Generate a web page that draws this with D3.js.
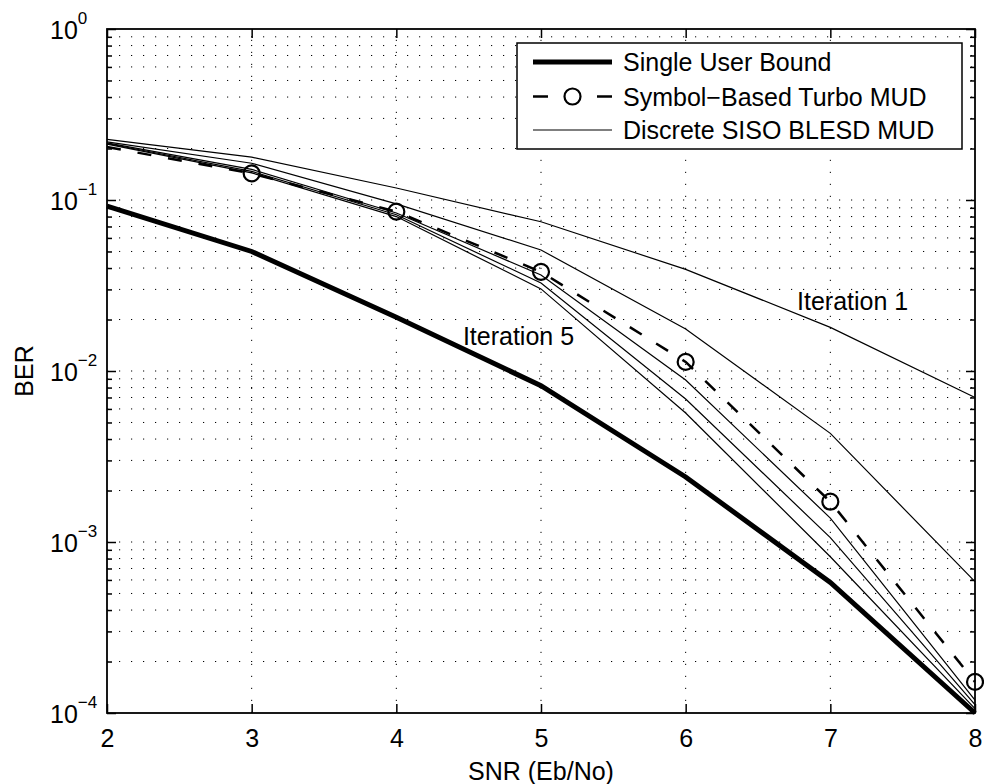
<!DOCTYPE html>
<html>
<head>
<meta charset="utf-8">
<script src="https://cdn.jsdelivr.net/npm/d3@7"></script>
<style>
  body { margin: 0; background: #fff; }
  text { font-family: "Liberation Sans", Arial, Helvetica, sans-serif; fill: #000; }
</style>
</head>
<body>
<svg id="chart"></svg>
<script>
// SNR points (Eb/No)
const snr = [2, 3, 4, 5, 6, 7, 8];

// BER curves
const singleUserBound = [0.092, 0.05, 0.0206, 0.0082, 0.0024, 0.00058, 0.0001];
const turboMud = [0.204, 0.143, 0.0855, 0.038, 0.0113, 0.00172, 0.000152];
const turboMarkerSnr = [3, 4, 5, 6, 7, 8];

// discrete SISO BLESD MUD, iterations 1..5
const blesdIter1 = [0.226, 0.178, 0.1175, 0.0746, 0.0393, 0.018, 0.007];
const blesdIter2 = [0.219, 0.164, 0.095, 0.051, 0.0176, 0.00432, 0.000586];
const blesdIter3 = [0.216, 0.151, 0.084, 0.0364, 0.00886, 0.00138, 0.000119];
const blesdIter4 = [0.214, 0.147, 0.082, 0.0327, 0.00686, 0.00106, 0.000112];
const blesdIter5 = [0.212, 0.144, 0.08, 0.0302, 0.00568, 0.00082, 0.000106];

const xTicks = [2, 3, 4, 5, 6, 7, 8];
const yTicks = [1e-4, 1e-3, 1e-2, 1e-1, 1];
const yExponents = ["\u22124", "\u22123", "\u22122", "\u22121", "0"];
const legendLabels = ["Single User Bound", "Symbol\u2212Based Turbo MUD", "Discrete SISO BLESD MUD"];

// minor log ticks 2..9 for each decade
const yMinor = [];
yTicks.slice(0, -1).forEach((d) => {
  for (let k = 2; k <= 9; k++) yMinor.push(d * k);
});

const width = 984;
const height = 784;
const margin = { top: 29, right: 9, bottom: 71, left: 107 };
const fontSize = 25;

const svg = d3.select("#chart").attr("width", width).attr("height", height);

const x = d3.scaleLinear().domain([2, 8]).range([margin.left, width - margin.right]);
const y = d3.scaleLog().domain([1e-4, 1]).range([height - margin.bottom, margin.top]);

const x0 = margin.left, x1 = width - margin.right;
const y0 = margin.top, y1 = height - margin.bottom;

// dotted grid
const grid = svg.append("g")
  .attr("stroke", "#000")
  .attr("stroke-width", 1)
  .attr("stroke-dasharray", "1.2,10.8");

grid.selectAll(".gy")
  .data(yTicks.concat(yMinor).filter((d) => d > 1e-4 && d < 1))
  .enter()
  .append("line")
  .attr("x1", x0).attr("x2", x1)
  .attr("y1", (d) => y(d)).attr("y2", (d) => y(d));

grid.selectAll(".gx")
  .data(xTicks.slice(1, -1))
  .enter()
  .append("line")
  .attr("x1", (d) => x(d)).attr("x2", (d) => x(d))
  .attr("y1", y1).attr("y2", y0);

// curves
const line = d3.line()
  .x((d) => x(d[0]))
  .y((d) => y(d[1]));

const pairs = (vals) => snr.map((s, i) => [s, vals[i]]);

[blesdIter1, blesdIter2, blesdIter3, blesdIter4, blesdIter5].forEach((vals) => {
  svg.append("path")
    .attr("d", line(pairs(vals)))
    .attr("fill", "none")
    .attr("stroke", "#000")
    .attr("stroke-width", 1.2);
});

svg.append("path")
  .attr("d", line(pairs(turboMud)))
  .attr("fill", "none")
  .attr("stroke", "#000")
  .attr("stroke-width", 2.5)
  .attr("stroke-dasharray", "14,17");

svg.selectAll(".marker")
  .data(pairs(turboMud).filter((d) => turboMarkerSnr.includes(d[0])))
  .enter()
  .append("circle")
  .attr("cx", (d) => x(d[0]))
  .attr("cy", (d) => y(d[1]))
  .attr("r", 8)
  .attr("fill", "none")
  .attr("stroke", "#000")
  .attr("stroke-width", 2.2);

svg.append("path")
  .attr("d", line(pairs(singleUserBound)))
  .attr("fill", "none")
  .attr("stroke", "#000")
  .attr("stroke-width", 5);

// axes, ticks pointing inward like matlab
const axisStyle = (g) => {
  g.selectAll("path").remove();
  g.selectAll("line").attr("stroke", "#000").attr("stroke-width", 1.5);
};

svg.append("g")
  .attr("transform", `translate(0,${y1})`)
  .call(d3.axisBottom(x).tickValues(xTicks).tickFormat(d3.format("d")).tickSize(-9).tickPadding(16))
  .call(axisStyle)
  .call((g) => g.selectAll("text").attr("font-size", fontSize).style("font-family", null));

svg.append("g")
  .attr("transform", `translate(0,${y0})`)
  .call(d3.axisTop(x).tickValues(xTicks).tickSize(-9).tickFormat(""))
  .call(axisStyle);

svg.append("g")
  .attr("transform", `translate(${x0},0)`)
  .call(d3.axisLeft(y).tickValues(yTicks).tickSize(-9).tickFormat(""))
  .call(axisStyle);

svg.append("g")
  .attr("transform", `translate(${x0},0)`)
  .call(d3.axisLeft(y).tickValues(yMinor).tickSize(-5).tickFormat(""))
  .call(axisStyle);

svg.append("g")
  .attr("transform", `translate(${x1},0)`)
  .call(d3.axisRight(y).tickValues(yTicks).tickSize(-9).tickFormat(""))
  .call(axisStyle);

svg.append("g")
  .attr("transform", `translate(${x1},0)`)
  .call(d3.axisRight(y).tickValues(yMinor).tickSize(-5).tickFormat(""))
  .call(axisStyle);

// plot box
svg.append("rect")
  .attr("x", x0).attr("y", y0)
  .attr("width", x1 - x0).attr("height", y1 - y0)
  .attr("fill", "none")
  .attr("stroke", "#000")
  .attr("stroke-width", 1.8);

// y tick labels as 10^k
yTicks.forEach((d, i) => {
  const t = svg.append("text")
    .attr("x", 50)
    .attr("y", y(d) + 10)
    .attr("font-size", fontSize);
  t.append("tspan").text("10");
  t.append("tspan").attr("dy", -15).attr("font-size", 17).text(yExponents[i]);
});

// axis titles
svg.append("text")
  .attr("x", (x0 + x1) / 2)
  .attr("y", 780)
  .attr("text-anchor", "middle")
  .attr("font-size", fontSize)
  .text("SNR (Eb/No)");

svg.append("text")
  .attr("transform", `translate(33,${(y0 + y1) / 2}) rotate(-90)`)
  .attr("text-anchor", "middle")
  .attr("font-size", fontSize)
  .text("BER");

// iteration annotations
svg.append("text")
  .attr("x", x(4.46))
  .attr("y", y(0.0141))
  .attr("font-size", fontSize)
  .text("Iteration 5");

svg.append("text")
  .attr("x", x(6.77))
  .attr("y", y(0.0227))
  .attr("font-size", fontSize)
  .text("Iteration 1");

// legend
const legend = svg.append("g");
legend.append("rect")
  .attr("x", 517).attr("y", 43)
  .attr("width", 445).attr("height", 106)
  .attr("fill", "#fff")
  .attr("stroke", "#000")
  .attr("stroke-width", 1.5);

const rowY = [62, 96.5, 130];
const sx0 = 533, sx1 = 612;

legend.append("line")
  .attr("x1", sx0).attr("x2", sx1)
  .attr("y1", rowY[0]).attr("y2", rowY[0])
  .attr("stroke", "#000").attr("stroke-width", 5);

legend.append("line")
  .attr("x1", sx0).attr("x2", sx1)
  .attr("y1", rowY[1]).attr("y2", rowY[1])
  .attr("stroke", "#000").attr("stroke-width", 2.5)
  .attr("stroke-dasharray", "15,49");

legend.append("circle")
  .attr("cx", (sx0 + sx1) / 2).attr("cy", rowY[1])
  .attr("r", 8)
  .attr("fill", "none")
  .attr("stroke", "#000").attr("stroke-width", 2.2);

legend.append("line")
  .attr("x1", sx0).attr("x2", sx1)
  .attr("y1", rowY[2]).attr("y2", rowY[2])
  .attr("stroke", "#000").attr("stroke-width", 1.2);

legend.selectAll(".lbl")
  .data(legendLabels)
  .enter()
  .append("text")
  .attr("x", 623)
  .attr("y", (d, i) => rowY[i] + 9)
  .attr("font-size", fontSize)
  .text((d) => d);
</script>
</body>
</html>
